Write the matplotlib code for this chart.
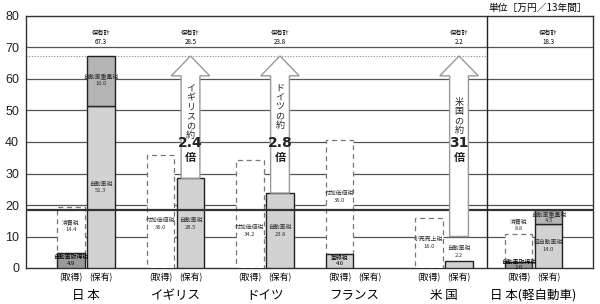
import matplotlib
matplotlib.use("Agg")
import matplotlib.pyplot as plt
from matplotlib.patches import Polygon
import matplotlib.transforms as mtransforms

plt.rcParams['font.family'] = ['Noto Sans CJK JP', 'DejaVu Sans']

# ---- data ----
countries = ['日 本', 'イギリス', 'ドイツ', 'フランス', '米 国', '日 本(軽自動車)']
acq_solid = [4.9, 0.0, 0.0, 4.6, 0.0, 2.0]
acq_solid_lbl = ['自動車取得税', '', '', '登録税', '', '自動車取得税']
acq_dash = [14.4, 36.0, 34.2, 36.0, 16.0, 8.8]
acq_dash_lbl = ['消費税', '付加価値税', '付加価値税', '付加価値税', '小売売上税', '消費税']
own_base = [51.3, 28.5, 23.8, 0.0, 2.2, 14.0]
own_base_lbl = ['自動車税', '自動車税', '自動車税', '', '自動車税', '軽自動車税']
own_top = [16.0, 0.0, 0.0, 0.0, 0.0, 4.3]
own_top_lbl = ['自動車重量税', '', '', '', '', '自動車重量税']
own_total = [67.3, 28.5, 23.8, None, 2.2, 18.3]
ratio = [None, '2.4', '2.8', None, '31', None]
ratio_txt = ['', 'イギリスの約', 'ドイツの約', '', '米国の約', '']
kei_total = 18.3
yticks = [0, 10, 20, 30, 40, 50, 60, 70, 80]
unit_label = '単位［万円／13年間］'
sub_labels = ['(取得)', '(保有)']

# ---- layout / style ----
off = 0.168
bw = 0.31
c_light = '#d2d2d2'
c_mid = '#b4b4b4'
c_dark = '#9a9a9a'
lbl_fs = 4.2

fig = plt.figure(figsize=(6.0, 3.04), dpi=100)
ax = fig.add_axes([26/600, 36/304, 567/600, 252/304])
ax.set_xlim(-0.670, 5.665)
ax.set_ylim(0, 80)

for s in ax.spines.values():
    s.set_color('#333333')
    s.set_linewidth(1.0)

ax.set_yticks(yticks)
ax.tick_params(axis='y', length=0, pad=5, labelsize=9, colors='#222222')
for t in ax.get_yticklabels():
    t.set_family('Liberation Sans')
ax.set_xticks([])

# gridlines
for yv in yticks[1:-1]:
    ax.axhline(yv, color='#555555', lw=0.9, zorder=1)

# separator
sep_x = 4.481
ax.axvline(sep_x, color='#222222', lw=1.0, zorder=6)
# dotted reference at Japan total
ax.plot([-0.670, sep_x], [own_total[0]] * 2, ls=(0, (1, 1.5)), color='#888888', lw=0.8, zorder=2)
# kei reference line
ax.axhline(kei_total, color='#333333', lw=1.6, zorder=5)

for i in range(len(countries)):
    xa = i - off
    xo = i + off
    # acquisition
    if acq_solid[i] > 0:
        ax.bar(xa, acq_solid[i], bw, color=c_dark if acq_solid_lbl[i] != '登録税' else c_light,
               edgecolor='#222222', lw=1.0, zorder=4)
        ax.text(xa, acq_solid[i] / 2, f'{acq_solid_lbl[i]}\n{acq_solid[i]:.1f}', ha='center', va='center',
                fontsize=lbl_fs, linespacing=1.1, zorder=7)
    ax.bar(xa, acq_dash[i], bw, bottom=acq_solid[i], color='white', edgecolor='#777777',
           lw=0.9, ls=(0, (4, 3)), zorder=3)
    # ownership
    if own_base[i] > 0:
        ax.bar(xo, own_base[i], bw, color=c_light, edgecolor='#222222', lw=1.0, zorder=4)
    if own_top[i] > 0:
        ax.bar(xo, own_top[i], bw, bottom=own_base[i], color=c_mid, edgecolor='#222222', lw=1.0, zorder=4)
    if own_total[i] is not None:
        ax.text(xo, 73.2, f'保有計\n{own_total[i]:.1f}', ha='center', va='center', fontsize=4.5,
                linespacing=1.3, zorder=7)

# bar labels (positioned per layout)
dash_lbl_y = [13.5, 14.0, 11.8, 22.7, 8.1, 13.7]
for i in range(len(countries)):
    ax.text(i - off, dash_lbl_y[i], f'{acq_dash_lbl[i]}\n{acq_dash[i]:.1f}', ha='center', va='center',
            fontsize=lbl_fs, linespacing=1.5, color='#333333', zorder=7)
own_lbl_y = [25.6, 14.0, 11.8, None, 5.0, 7.0]
for i in range(len(countries)):
    if own_base_lbl[i]:
        ax.text(i + off, own_lbl_y[i], f'{own_base_lbl[i]}\n{own_base[i]:.1f}', ha='center', va='center',
                fontsize=lbl_fs, linespacing=1.5, color='#333333', zorder=7)
    if own_top_lbl[i]:
        ax.text(i + off, own_base[i] + own_top[i] / 2 + (0.4 if own_top[i] > 10 else 0),
                f'{own_top_lbl[i]}\n{own_top[i]:.1f}', ha='center', va='center',
                fontsize=lbl_fs, linespacing=1.1 if own_top[i] < 10 else 1.5, color='#333333', zorder=7)

# arrows
shaft_w = 0.105
head_w = 0.215
head_len = 6.3
arrow_bottom = [None, own_base[1], own_base[2], None, 10.0, None]
txt_top = [None, 58.5, 58.5, None, 54.0, None]
for i in range(len(countries)):
    if ratio[i] is None:
        continue
    cx = i + off
    yb = arrow_bottom[i]
    yt = own_total[0]
    yh = yt - head_len
    pts = [(cx - shaft_w, yb), (cx + shaft_w, yb), (cx + shaft_w, yh), (cx + head_w, yh),
           (cx, yt), (cx - head_w, yh), (cx - shaft_w, yh)]
    ax.add_patch(Polygon(pts, closed=True, facecolor='white', edgecolor='#999999', lw=1.0, zorder=6))
    ax.text(cx, txt_top[i], '\n'.join(ratio_txt[i]), ha='center', va='top', fontsize=6.5,
            linespacing=1.05, zorder=8, color='#222222')
    ax.text(cx, 39.6, ratio[i], ha='center', va='center', fontsize=10, fontweight='bold',
            zorder=8, color='#222222', family='DejaVu Sans')
    ax.text(cx, 35.0, '倍', ha='center', va='center', fontsize=8, fontweight='bold',
            zorder=8, color='#222222')

# x labels
trans = mtransforms.blended_transform_factory(ax.transData, fig.transFigure)
for i, name in enumerate(countries):
    ax.text(i - off, 1 - 278/304, sub_labels[0], transform=trans, ha='center', va='center', fontsize=6.3)
    ax.text(i + off, 1 - 278/304, sub_labels[1], transform=trans, ha='center', va='center', fontsize=6.3)
    ax.text(i, 1 - 296/304, name, transform=trans, ha='center', va='center', fontsize=9)

fig.text(587/600, 1 - 8/304, unit_label, ha='right', va='center', fontsize=7)

fig.savefig('out.png', dpi=100, facecolor='white')
